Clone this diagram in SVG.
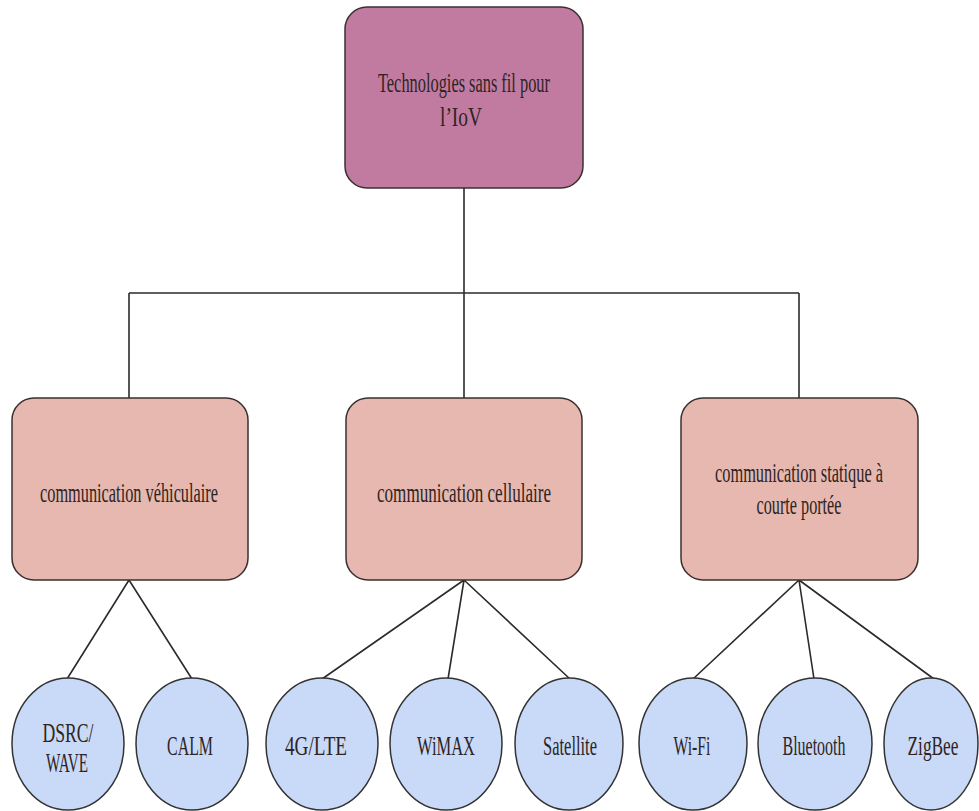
<svg xmlns="http://www.w3.org/2000/svg" width="979" height="811" viewBox="0 0 979 811">
<style>
.root{fill:#c27ba0;stroke:#3a3030;stroke-width:1.5}
.mid{fill:#e6b8af;stroke:#3a3030;stroke-width:1.5}
.leaf{fill:#c9daf8;stroke:#333;stroke-width:1.5}
.conn{stroke:#2b2b2b;stroke-width:1.6;fill:none}
text{font-family:"Liberation Serif","Times New Roman",serif;font-size:16.5px;fill:#2e2424;text-anchor:middle}
</style>
<rect width="979" height="811" fill="#ffffff"/>
<g id="connectors">
<path class="conn" d="M464 188V398M129 293H799M129 293V398M799 293V398"/>
<path class="conn" d="M129 580L67 679M129 580L192 679"/>
<path class="conn" d="M464 580L322 679M464 580L448 679M464 580L570 679"/>
<path class="conn" d="M799 580L693 679M799 580L814 679M799 580L934 679"/>
</g>
<g id="root">
<rect class="root" x="345" y="7" width="238" height="181" rx="22"/>
<text transform="translate(464 92) scale(1 1.7)" textLength="172" lengthAdjust="spacingAndGlyphs">Technologies sans fil pour</text>
<text transform="translate(461 126) scale(1 1.7)" textLength="42" lengthAdjust="spacingAndGlyphs">l’IoV</text>
</g>
<g id="vehiculaire">
<rect class="mid" x="12" y="398" width="236" height="182" rx="22"/>
<text transform="translate(129 502) scale(1 1.7)" textLength="178" lengthAdjust="spacingAndGlyphs">communication véhiculaire</text>
</g>
<g id="cellulaire">
<rect class="mid" x="346" y="398" width="236" height="182" rx="22"/>
<text transform="translate(464 502) scale(1 1.7)" textLength="174" lengthAdjust="spacingAndGlyphs">communication cellulaire</text>
</g>
<g id="statique">
<rect class="mid" x="681" y="398" width="237" height="182" rx="22"/>
<text transform="translate(799 482) scale(1 1.7)" textLength="168" lengthAdjust="spacingAndGlyphs">communication statique à</text>
<text transform="translate(799 514) scale(1 1.7)" textLength="85" lengthAdjust="spacingAndGlyphs">courte portée</text>
</g>
<g id="dsrc">
<ellipse class="leaf" cx="68" cy="744" rx="56" ry="66"/>
<text transform="translate(68 742) scale(1 1.7)" textLength="51" lengthAdjust="spacingAndGlyphs">DSRC/</text>
<text transform="translate(67 772) scale(1 1.7)" textLength="42" lengthAdjust="spacingAndGlyphs">WAVE</text>
</g>
<g id="calm">
<ellipse class="leaf" cx="192" cy="744" rx="56" ry="66"/>
<text transform="translate(190 755) scale(1 1.7)" textLength="46" lengthAdjust="spacingAndGlyphs">CALM</text>
</g>
<g id="lte">
<ellipse class="leaf" cx="322" cy="744" rx="56" ry="66"/>
<text transform="translate(316 755) scale(1 1.7)" textLength="62" lengthAdjust="spacingAndGlyphs">4G/LTE</text>
</g>
<g id="wimax">
<ellipse class="leaf" cx="446" cy="744" rx="56" ry="66"/>
<text transform="translate(446 755) scale(1 1.7)" textLength="58" lengthAdjust="spacingAndGlyphs">WiMAX</text>
</g>
<g id="satellite">
<ellipse class="leaf" cx="569" cy="744" rx="54" ry="66"/>
<text transform="translate(570 755) scale(1 1.7)" textLength="54" lengthAdjust="spacingAndGlyphs">Satellite</text>
</g>
<g id="wifi">
<ellipse class="leaf" cx="693" cy="744" rx="54" ry="66"/>
<text transform="translate(692 755) scale(1 1.7)" textLength="37" lengthAdjust="spacingAndGlyphs">Wi-Fi</text>
</g>
<g id="bluetooth">
<ellipse class="leaf" cx="815" cy="744" rx="57" ry="66"/>
<text transform="translate(814 755) scale(1 1.7)" textLength="63" lengthAdjust="spacingAndGlyphs">Bluetooth</text>
</g>
<g id="zigbee">
<ellipse class="leaf" cx="931" cy="744" rx="47" ry="66"/>
<text transform="translate(933 755) scale(1 1.7)" textLength="51" lengthAdjust="spacingAndGlyphs">ZigBee</text>
</g>
</svg>
